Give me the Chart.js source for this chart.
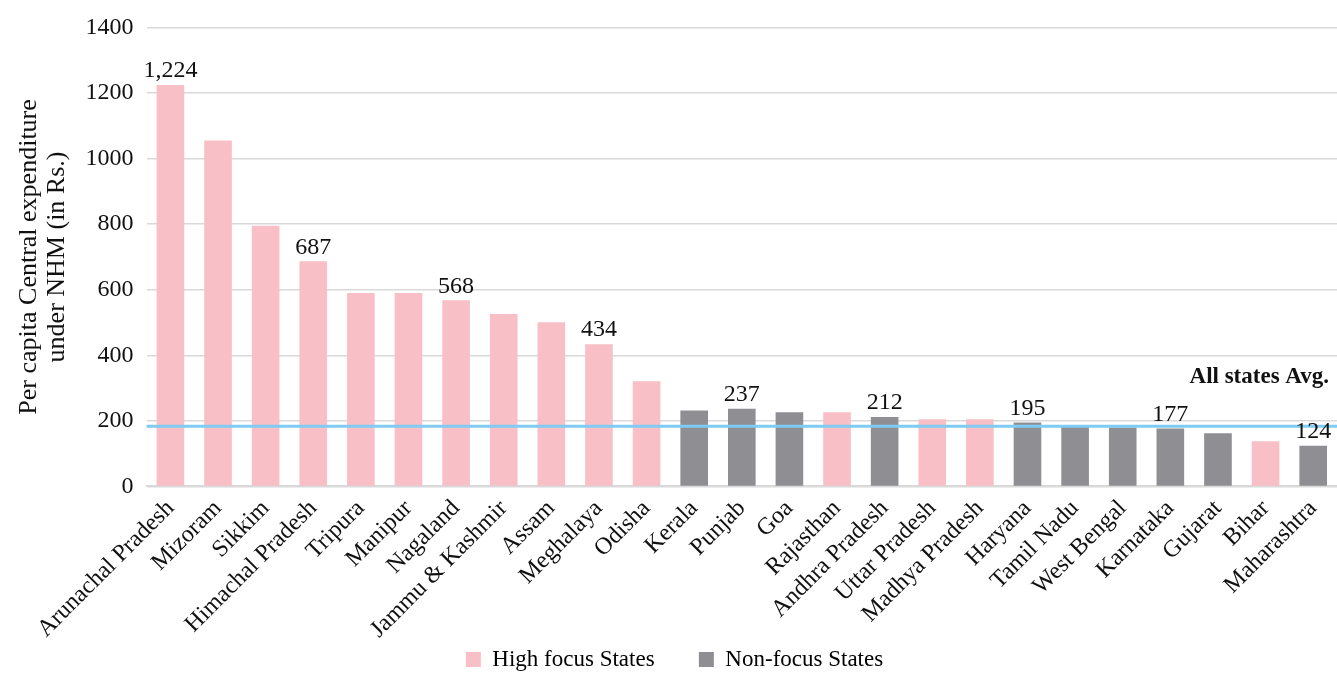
<!DOCTYPE html>
<html>
<head>
<meta charset="utf-8">
<script src="https://cdn.jsdelivr.net/npm/chart.js@4/dist/chart.umd.min.js"></script>
<style>
  body { margin: 0; background: #fff; }
  #wrap { width: 1337px; height: 673px; }
</style>
</head>
<body>
<div id="wrap"><canvas id="nhmChart" width="1337" height="673"></canvas></div>
<script>
// States, ordered as in the picture
const states = ['Arunachal Pradesh', 'Mizoram', 'Sikkim', 'Himachal Pradesh', 'Tripura', 'Manipur',
    'Nagaland', 'Jammu & Kashmir', 'Assam', 'Meghalaya', 'Odisha', 'Kerala', 'Punjab', 'Goa',
    'Rajasthan', 'Andhra Pradesh', 'Uttar Pradesh', 'Madhya Pradesh', 'Haryana', 'Tamil Nadu',
    'West Bengal', 'Karnataka', 'Gujarat', 'Bihar', 'Maharashtra'];

// per capita central expenditure (Rs.)
const spend = [1224, 1055, 795, 687, 590, 590, 568, 526, 501, 434, 321, 232, 237, 226,
    226, 212, 205, 205, 195, 184, 180, 177, 162, 138, 124];

// 'H' = high focus, 'N' = non-focus
const focus = ['H', 'H', 'H', 'H', 'H', 'H', 'H', 'H', 'H', 'H', 'H', 'N', 'N', 'N',
    'H', 'N', 'H', 'H', 'N', 'N', 'N', 'N', 'N', 'H', 'N'];

// which bars carry a value label
const labelled = [0, 3, 6, 9, 12, 15, 18, 21, 24];

const avgValue = 184;
const yTicks = [0, 200, 400, 600, 800, 1000, 1200, 1400];

const pink = '#F8BFC6';
const grey = '#8F8E93';
const serif = "'Liberation Serif', 'DejaVu Serif', serif";

// average line + value labels
const extras = {
    id: 'extras',
    afterDatasetsDraw(chart) {
        const ctx = chart.ctx;
        const y = chart.scales.y;
        const area = chart.chartArea;
        const py = y.getPixelForValue(avgValue);

        ctx.save();
        ctx.strokeStyle = '#7FCBF2';
        ctx.lineWidth = 3;
        ctx.beginPath();
        ctx.moveTo(area.left, py);
        ctx.lineTo(area.right, py);
        ctx.stroke();

        ctx.fillStyle = '#111';
        ctx.font = 'bold 23px ' + serif;
        ctx.textAlign = 'right';
        ctx.textBaseline = 'bottom';
        ctx.fillText('All states Avg.', area.right - 8, py - 38);

        ctx.font = '24px ' + serif;
        ctx.textAlign = 'center';
        const meta = chart.getDatasetMeta(0);
        labelled.forEach(i => {
            const bar = meta.data[i];
            ctx.fillText(spend[i].toLocaleString('en-US'), bar.x, bar.y - 2);
        });
        ctx.restore();
    }
};

const ctx = document.getElementById('nhmChart').getContext('2d');
const nhmChart = new Chart(ctx, {
    type: 'bar',
    data: {
        labels: states,
        datasets: [{
            data: spend,
            backgroundColor: focus.map(f => f === 'H' ? pink : grey),
            barPercentage: 0.58,
            categoryPercentage: 1.0
        }]
    },
    options: {
        responsive: false,
        animation: false,
        layout: { padding: { left: 12, right: 0, top: 2, bottom: -8 } },
        scales: {
            x: {
                grid: { display: false },
                border: { color: '#d9d9d9', width: 2 },
                ticks: {
                    color: '#111',
                    font: { family: serif, size: 24 },
                    minRotation: 45,
                    maxRotation: 45,
                    autoSkip: false,
                    padding: 0
                }
            },
            y: {
                min: 0,
                max: 1400,
                afterBuildTicks(axis) {
                    axis.ticks = yTicks.map(v => ({ value: v }));
                },
                grid: { color: '#d9d9d9', lineWidth: 1.5, drawTicks: false },
                border: { display: false },
                ticks: {
                    color: '#111',
                    font: { family: serif, size: 24 },
                    padding: 13,
                    callback: v => String(v)
                },
                title: {
                    display: true,
                    text: ['Per capita Central expenditure', 'under NHM (in Rs.)'],
                    color: '#111',
                    font: { family: serif, size: 26, lineHeight: 1.05 },
                    padding: { bottom: 2 }
                }
            }
        },
        plugins: {
            tooltip: { enabled: false },
            legend: {
                position: 'bottom',
                labels: {
                    color: '#111',
                    font: { family: serif, size: 23 },
                    boxWidth: 15,
                    boxHeight: 15,
                    padding: 4,
                    generateLabels() {
                        return [
                            { text: 'High focus States       ', fillStyle: pink, strokeStyle: pink, lineWidth: 0 },
                            { text: 'Non-focus States', fillStyle: grey, strokeStyle: grey, lineWidth: 0 }
                        ];
                    }
                }
            }
        }
    },
    plugins: [extras]
});
</script>
</body>
</html>
